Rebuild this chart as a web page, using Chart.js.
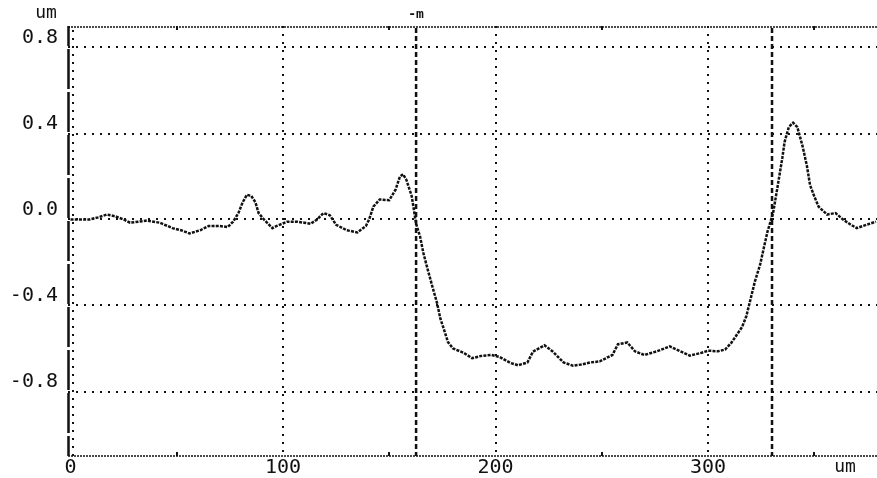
<!DOCTYPE html>
<html>
<head>
<meta charset="utf-8">
<script src="https://cdn.jsdelivr.net/npm/chart.js@4.4.1/dist/chart.umd.min.js"></script>
<style>
  html, body { margin: 0; background: #fff; }
  canvas { display: block; }
</style>
</head>
<body>
<canvas id="profile" width="877" height="478"></canvas>
<script>
// surface profile, position (um) vs height (um)
const posUm = [
  0, 5, 9, 13, 17, 21, 25, 28, 32, 36, 42, 48, 52, 56, 61, 65, 70, 74, 76.5, 79,
  81, 83, 85, 87, 88.5, 91, 95, 97, 102, 106.5, 110, 113, 116, 119, 122, 125, 130, 135, 139, 140.5,
  142.5, 145.5, 150, 153, 155, 156.5, 158, 160.5, 161.5, 162.6, 164.5, 166, 168, 170.5, 172.5, 174, 176, 177.6, 180, 185,
  189, 193, 198, 202, 207, 210.6, 215, 217.6, 223, 227, 232, 236.5, 240.7, 244.5, 249, 255, 257.6, 262, 265.6, 270,
  276, 282, 287, 291.5, 297, 300, 304.7, 308, 311, 313.6, 316, 318, 320, 322, 324.5, 326.4, 328, 330.6, 332.5, 334,
  335, 336, 338, 340, 342, 344.5, 346.5, 348, 350, 352, 356, 360, 363.5, 367, 370, 375, 379
];
const heightUm = [
  0.0, 0.0, 0.0, 0.01, 0.023, 0.015, 0.0, -0.015, -0.01, -0.005, -0.015, -0.04, -0.05, -0.065, -0.05, -0.03, -0.03, -0.035, -0.01, 0.03,
  0.08, 0.115, 0.11, 0.08, 0.03, 0.0, -0.04, -0.03, -0.01, -0.01, -0.015, -0.02, 0.0, 0.03, 0.02, -0.025, -0.05, -0.06, -0.03, 0.0,
  0.06, 0.093, 0.09, 0.14, 0.2, 0.21, 0.185, 0.11, 0.05, -0.02, -0.08, -0.155, -0.23, -0.32, -0.39, -0.46, -0.52, -0.57, -0.6, -0.62,
  -0.645, -0.635, -0.63, -0.64, -0.667, -0.678, -0.665, -0.615, -0.585, -0.615, -0.665, -0.68, -0.674, -0.665, -0.66, -0.63, -0.58, -0.572, -0.613, -0.63,
  -0.613, -0.59, -0.613, -0.633, -0.62, -0.61, -0.613, -0.605, -0.573, -0.535, -0.5, -0.45, -0.37, -0.29, -0.21, -0.125, -0.055, 0.03, 0.14, 0.23,
  0.29, 0.36, 0.43, 0.45, 0.43, 0.34, 0.25, 0.16, 0.107, 0.06, 0.023, 0.03, 0.0, -0.023, -0.04, -0.023, -0.01
];
const xTicks = [0, 100, 200, 300];
const yTicks = [0.8, 0.4, 0.0, -0.4, -0.8];
const minorX = [50, 150, 250, 350];
const cursors = [162.6, 330.1];

const INK = '#111';
const MONO = "'DejaVu Sans Mono', monospace";

// frame, cursor lines and unit labels
const decor = {
  id: 'decor',
  beforeDatasetsDraw(chart) {
    const { ctx, chartArea: a, scales: { x, y } } = chart;
    ctx.save();
    ctx.strokeStyle = INK;
    ctx.fillStyle = INK;

    // fine dotted top / bottom frame
    ctx.lineWidth = 1.5;
    ctx.setLineDash([2, 1]);
    [a.top + 1, a.bottom].forEach(py => {
      ctx.beginPath(); ctx.moveTo(a.left, py); ctx.lineTo(a.right, py); ctx.stroke();
    });
    minorX.forEach(v => {
      const px = Math.round(x.getPixelForValue(v));
      ctx.fillRect(px - 1, a.top, 2, 4);
      ctx.fillRect(px - 1, a.bottom - 4, 2, 4);
    });

    // left axis: heavy line broken at every 0.2
    const step = y.getPixelForValue(0) - y.getPixelForValue(0.2);
    const d0 = y.getPixelForValue(0.8) - a.top;
    ctx.lineWidth = 2.5;
    ctx.setLineDash([step - 3, 3]);
    ctx.lineDashOffset = step - 3 - d0 + 1.5;
    ctx.beginPath(); ctx.moveTo(a.left + 0.5, a.top); ctx.lineTo(a.left + 0.5, a.bottom); ctx.stroke();
    ctx.lineDashOffset = 0;
    ctx.lineWidth = 2;
    ctx.setLineDash([2, 6]);
    ctx.beginPath(); ctx.moveTo(a.left + 5, a.top + 4); ctx.lineTo(a.left + 5, a.bottom); ctx.stroke();

    // measuring cursors
    ctx.lineWidth = 2.5;
    ctx.setLineDash([5, 3]);
    cursors.forEach(v => {
      const px = x.getPixelForValue(v);
      ctx.beginPath(); ctx.moveTo(px, a.top + 2); ctx.lineTo(px, a.bottom); ctx.stroke();
    });
    ctx.restore();
  },
  afterDraw(chart) {
    const { ctx, chartArea: a, scales: { x } } = chart;
    ctx.save();
    ctx.fillStyle = INK;
    ctx.textAlign = 'center';
    ctx.textBaseline = 'middle';
    ctx.font = '18px ' + MONO;
    ctx.fillText('um', a.left - 22, a.top - 13);
    ctx.fillText('um', a.right - 32, a.bottom + 11);
    ctx.font = 'bold 13px ' + MONO;
    ctx.fillText('-m', x.getPixelForValue(cursors[0]), a.top - 11);
    ctx.restore();
  }
};

new Chart(document.getElementById('profile'), {
  type: 'line',
  data: {
    datasets: [{
      data: posUm.map((p, i) => ({ x: p, y: heightUm[i] })),
      borderColor: INK, borderWidth: 2.5, borderDash: [3, 1.2],
      pointRadius: 0, tension: 0, fill: false
    }]
  },
  options: {
    responsive: false, animation: false, devicePixelRatio: 1,
    layout: { padding: { top: 26, left: 0, right: 0, bottom: 0 } },
    scales: {
      x: {
        type: 'linear', min: -1.2, max: 379.5,
        afterBuildTicks: s => { s.ticks = xTicks.map(v => ({ value: v })); },
        afterFit: s => { s.height = 22; },
        grid: {
          color: c => c.tick && c.tick.value === 0 ? 'rgba(0,0,0,0)' : INK,
          lineWidth: 2, drawTicks: false
        },
        border: { display: false, dash: [2, 6] },
        ticks: { color: INK, font: { family: MONO, size: 20 }, padding: 0, maxRotation: 0 }
      },
      y: {
        min: -1.1, max: 0.9,
        afterBuildTicks: s => { s.ticks = yTicks.map(v => ({ value: v })); },
        afterFit: s => { s.width = 68; },
        grid: { color: INK, lineWidth: 2, drawTicks: false },
        border: { display: false, dash: [2, 6] },
        ticks: {
          color: INK, font: { family: MONO, size: 20 }, padding: 10, labelOffset: -10,
          callback: v => v.toFixed(1)
        }
      }
    },
    plugins: { legend: { display: false }, tooltip: { enabled: false } }
  },
  plugins: [decor]
});
</script>
</body>
</html>
